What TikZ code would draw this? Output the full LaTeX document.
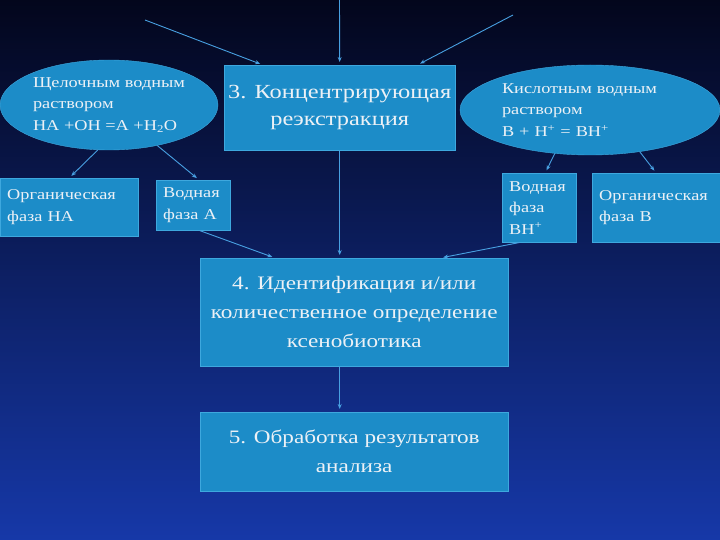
\documentclass[tikz,border=0pt]{standalone}
\usepackage{fontspec}
\setmainfont{Liberation Serif}[FakeStretch=1.22]
\usetikzlibrary{arrows.meta,shapes.geometric}
\definecolor{fondoA}{RGB}{3,6,28}
\definecolor{fondoB}{RGB}{12,36,120}
\definecolor{fondoC}{RGB}{22,56,168}
\definecolor{cajacol}{RGB}{28,140,200}
\definecolor{bordecol}{RGB}{62,168,222}
\definecolor{flechacol}{RGB}{72,160,225}
\definecolor{letracol}{RGB}{236,241,246}
\tikzset{
  bloque/.style={draw=bordecol, fill=cajacol, text=letracol, anchor=north west, inner xsep=7pt, inner ysep=0pt},
  elipse/.style={ellipse, draw=bordecol, fill=cajacol, text=letracol, inner sep=0pt, align=left},
  chico/.style={font=\fontsize{15}{21.5}\selectfont},
  grande/.style={font=\fontsize{20}{27}\selectfont},
  medio/.style={font=\fontsize{19}{29}\selectfont},
  enlace/.style={draw=flechacol, line width=0.9pt, -{Stealth[length=5pt,width=4pt]}, shorten >=3pt}
}
\begin{document}
\begin{tikzpicture}[x=1pt, y=-1pt]
  \useasboundingbox (0,0) rectangle (720,540);
  % fondo
  \shade[top color=fondoA, middle color=fondoB, bottom color=fondoC] (0,0) rectangle (720,540);
  % bloque central: reextraccion
  \node[bloque, grande, align=center, inner xsep=0pt, minimum width=231pt, minimum height=85pt] (reex) at (224,65)
    {3. Концентрирующая\\реэкстракция};
  % soluciones: alcalina y acida
  \node[elipse, chico, minimum width=218pt, minimum height=90pt] (elL) at (109,105)
    {Щелочным водным\\раствором\\HA +OH =A +H\textsubscript{2}O};
  \node[elipse, chico, text width=176pt, minimum width=260pt, minimum height=90pt] (elR) at (590,110)
    {Кислотным водным\\раствором\\B + H\textsuperscript{+} = BH\textsuperscript{+}};
  % fases
  \node[bloque, chico, align=left, text width=124pt, minimum height=58pt] (orgHA) at (0,178) {Органическая\\фаза HA};
  \node[bloque, chico, align=left, text width=60pt, minimum height=50pt] (vodA) at (156,180) {Водная\\фаза A};
  \node[bloque, chico, align=left, text width=60pt, minimum height=69pt] (vodB) at (502,173)
    {Водная\\фаза\\BH\textsuperscript{+}};
  \node[bloque, chico, align=left, text width=114pt, minimum height=69pt] (orgB) at (592,173) {Органическая\\фаза B};
  % identificacion y resultados
  \node[bloque, medio, align=center, inner xsep=0pt, minimum width=308pt, minimum height=108pt] (ident) at (200,258)
    {4. Идентификация и/или\\количественное определение\\ксенобиотика};
  \node[bloque, medio, align=center, inner xsep=0pt, minimum width=308pt, minimum height=79pt] (result) at (200,412)
    {5. Обработка результатов\\анализа};
  % flechas de entrada
  \coordinate (arribaA) at (145,20);
  \coordinate (arribaB) at (339.5,0);
  \coordinate (arribaC) at (513,15);
  \draw[enlace] (arribaA) -- ([xshift=39pt]reex.north west);
  \draw[enlace] (arribaB) -- (reex.north);
  \draw[enlace] (arribaC) -- ([xshift=-38pt]reex.north east);
  % flechas entre bloques
  \draw[enlace] (elL.-104) -- (orgHA.north);
  \draw[enlace] (elL.-40) -- ([xshift=6pt]vodA.north);
  \draw[enlace] (elR.-129) -- ([xshift=6pt]vodB.north);
  \draw[enlace] (elR.-40) -- (orgB.north);
  \draw[enlace] (reex.south) -- (reex.south |- ident.north);
  \draw[enlace] ([xshift=6pt]vodA.south) -- ([xshift=-79pt]ident.north);
  \draw[enlace] ([xshift=-19pt]vodB.south) -- ([xshift=86pt]ident.north);
  \draw[enlace] (ident.south -| reex.south) -- (result.north -| reex.south);
\end{tikzpicture}
\end{document}
